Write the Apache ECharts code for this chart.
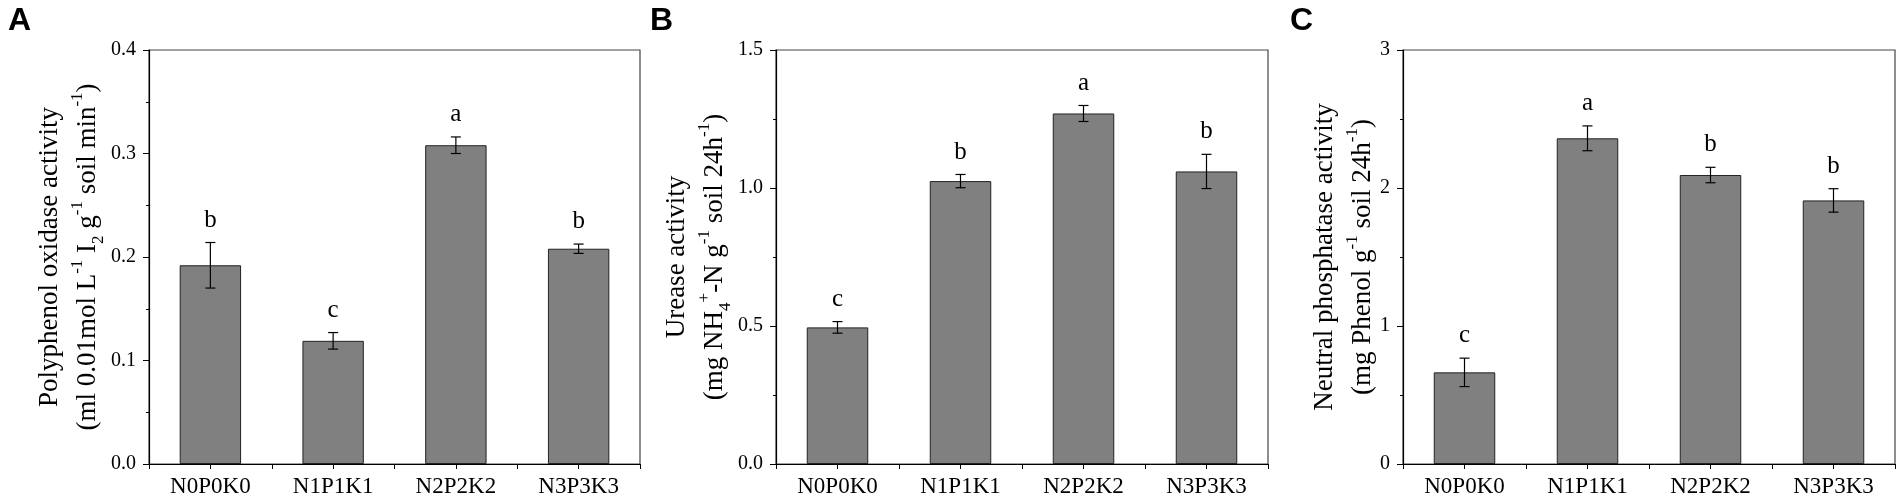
<!DOCTYPE html>
<html><head><meta charset="utf-8">
<script src="https://cdn.jsdelivr.net/npm/echarts@6/dist/echarts.min.js"></script>
<style>html,body{margin:0;padding:0;background:#fff}#c{width:1904px;height:500px}</style>
</head><body><div id="c"></div>
<script>
// ---- data ----
var categories = ['N0P0K0', 'N1P1K1', 'N2P2K2', 'N3P3K3'];
var ppoMean = [0.192, 0.119, 0.308, 0.208];
var ppoErr = [0.022, 0.008, 0.008, 0.0045];
var ppoLetters = ['b', 'c', 'a', 'b'];
var ureMean = [0.495, 1.025, 1.27, 1.06];
var ureErr = [0.021, 0.024, 0.029, 0.062];
var ureLetters = ['c', 'b', 'a', 'b'];
var napMean = [0.664, 2.36, 2.094, 1.91];
var napErr = [0.103, 0.09, 0.056, 0.085];
var napLetters = ['c', 'a', 'b', 'b'];
var yMax = [0.4, 1.5, 3];
var yInterval = [0.1, 0.5, 1];
var yDecimals = [1, 1, 0];
var panelLabels = ['A', 'B', 'C'];

var SERIF = 'Liberation Serif, Times New Roman, serif';
var chart = echarts.init(document.getElementById('c'), null, {renderer: 'canvas'});

var grids = [
  {left: 149, top: 50, width: 491, height: 414},
  {left: 776, top: 50, width: 492, height: 414},
  {left: 1403, top: 50, width: 492, height: 414}
];
var nameGaps = [37, 37, 20];
var names = [
  '{t|Polyphenol oxidase activity}\n{t|(ml 0.01mol L}{sup|-1}{t| I}{sub|2}{t| g}{sup|-1}{t| soil min}{sup|-1}{t|)}',
  '{t|Urease activity}\n{t|(mg NH}{sub|4}{sup|+}{t|-N g}{sup|-1}{t| soil 24h}{sup|-1}{t|)}',
  '{t|Neutral phosphatase activity}\n{t|(mg Phenol g}{sup|-1}{t| soil 24h}{sup|-1}{t|)}'
];
var rich = {
  t: {fontFamily: SERIF, fontSize: 27, lineHeight: 38, color: '#000'},
  sup: {fontFamily: SERIF, fontSize: 17, lineHeight: 20, verticalAlign: 'top', color: '#000'},
  sub: {fontFamily: SERIF, fontSize: 17, lineHeight: 20, verticalAlign: 'bottom', color: '#000'}
};
var means = [ppoMean, ureMean, napMean];
var errs = [ppoErr, ureErr, napErr];
var letters = [ppoLetters, ureLetters, napLetters];

var xAxes = [], yAxes = [], series = [];
grids.forEach(function (g, i) {
  g.show = true; g.borderColor = '#444'; g.borderWidth = 1.2; g.backgroundColor = 'transparent';
  xAxes.push({
    type: 'category', gridIndex: i, data: categories, position: 'bottom',
    axisLine: {lineStyle: {color: '#000', width: 1.2}},
    axisTick: {show: true, interval: 0, length: 5, lineStyle: {color: '#000'}},
    axisLabel: {fontFamily: SERIF, fontSize: 23, color: '#000', margin: 11, interval: 0}
  });
  xAxes.push({
    type: 'category', gridIndex: i, data: categories, position: 'bottom',
    axisLine: {show: false},
    axisTick: {show: true, alignWithLabel: true, interval: 0, length: 5, lineStyle: {color: '#000'}},
    axisLabel: {show: false}
  });
  yAxes.push({
    type: 'value', gridIndex: i, min: 0, max: yMax[i], interval: yInterval[i],
    axisLine: {show: true, lineStyle: {color: '#000', width: 1.2}},
    axisTick: {show: true, length: 6, lineStyle: {color: '#000'}},
    minorTick: {show: true, splitNumber: 2, length: 3, lineStyle: {color: '#000'}},
    splitLine: {show: false},
    axisLabel: {fontFamily: SERIF, fontSize: 20, color: '#000', margin: 13,
      formatter: (function (d) { return function (v) { return v.toFixed(d); }; })(yDecimals[i])},
    name: names[i], nameLocation: 'middle', nameRotate: 90, nameGap: nameGaps[i],
    nameTextStyle: {rich: rich, align: 'center'}
  });
  series.push({
    type: 'bar', xAxisIndex: i * 2, yAxisIndex: i, data: means[i], barWidth: '50%',
    itemStyle: {color: '#808080', borderColor: '#222', borderWidth: 1}, silent: true
  });
  (function (m, e, l, idx) {
    series.push({
      type: 'custom', xAxisIndex: idx * 2, yAxisIndex: idx, silent: true, z: 5,
      data: m.map(function (v, k) { return [k, v, e[k]]; }),
      renderItem: function (params, api) {
        var k = api.value(0), v = api.value(1), er = api.value(2);
        var top = api.coord([k, v + er]);
        var bot = api.coord([k, v - er]);
        var hw = 5;
        var st = {stroke: '#000', lineWidth: 1.2};
        return {
          type: 'group',
          children: [
            {type: 'line', shape: {x1: top[0], y1: top[1], x2: bot[0], y2: bot[1]}, style: st},
            {type: 'line', shape: {x1: top[0] - hw, y1: top[1], x2: top[0] + hw, y2: top[1]}, style: st},
            {type: 'line', shape: {x1: bot[0] - hw, y1: bot[1], x2: bot[0] + hw, y2: bot[1]}, style: st},
            {type: 'text', x: top[0], y: top[1] - 10,
              style: {text: l[k], fontFamily: SERIF, fontSize: 25, fill: '#000',
                align: 'center', verticalAlign: 'bottom'}}
          ]
        };
      }
    });
  })(means[i], errs[i], letters[i], i);
});

var letterX = [8, 650, 1290];
var graphics = panelLabels.map(function (t, i) {
  return {type: 'text', left: letterX[i], top: 5,
    style: {text: t, fontFamily: 'Liberation Sans, Arial, sans-serif', fontWeight: 'bold', fontSize: 32, fill: '#000'}};
});

chart.setOption({
  animation: false,
  grid: grids,
  xAxis: xAxes,
  yAxis: yAxes,
  series: series,
  graphic: graphics
});
</script></body></html>
